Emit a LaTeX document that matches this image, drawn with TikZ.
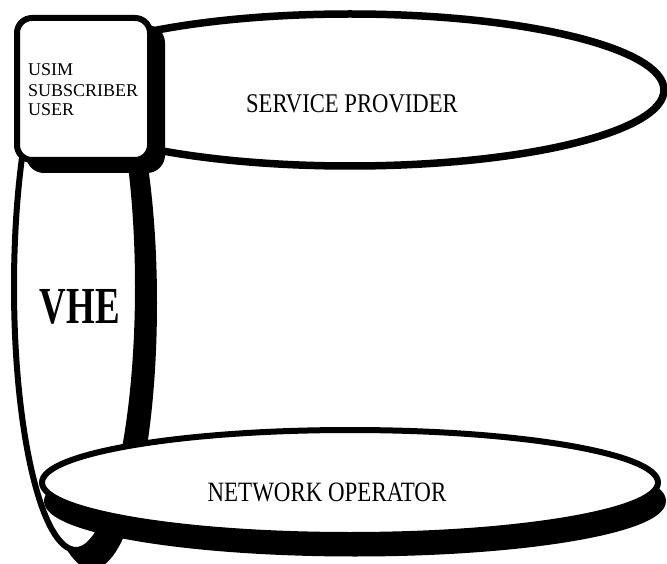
\documentclass[tikz,border=0pt]{standalone}
\usepackage{fontspec}
\usepackage{graphicx}
\setmainfont{Liberation Serif}
\begin{document}
\begin{tikzpicture}[x=1pt,y=-1pt,line join=round]
\tikzset{
  outl/.style={draw=black, fill=white, line width=6pt},
  shad/.style={draw=black, fill=black, line width=6pt},
  boxtext/.style={anchor=base west, inner sep=0pt, font=\fontsize{18}{20}\selectfont},
}
\useasboundingbox (0,0) rectangle (667,564);
% VHE ellipse with shadow
\filldraw[shad] (92,303) ellipse [x radius=62, y radius=263];
\filldraw[outl] (76,287) ellipse [x radius=62, y radius=263];
% Service provider ellipse
\filldraw[outl, line width=7.5pt] (350,90) ellipse [x radius=314, y radius=76];
% Network operator ellipse with shadow
\filldraw[shad] (355,501) ellipse [x radius=308, y radius=52.5];
\filldraw[outl] (350,482.5) ellipse [x radius=308, y radius=52.5];
% USIM box with shadow
\filldraw[shad, rounded corners=15pt] (29,28) rectangle (162,170);
\filldraw[outl, rounded corners=15pt] (17,18) rectangle (150,160);
% texts
\node[boxtext] (usim) at (28,76) {USIM};
\node[boxtext] (subs) at (28,97) {SUBSCRIBER};
\node[boxtext] (user) at (28,116) {USER};
\node[inner sep=0pt, font=\fontsize{27}{30}\selectfont] (sp) at (352,104) {\scalebox{0.84}[1]{SERVICE PROVIDER}};
\node[inner sep=0pt, font=\fontsize{28}{30}\selectfont] (no) at (327,492) {\scalebox{0.82}[1]{NETWORK OPERATOR}};
\node[inner sep=0pt, font=\fontsize{52}{56}\selectfont\bfseries] (vhe) at (80,307) {\scalebox{0.71}[1]{VHE}};
\end{tikzpicture}
\end{document}
